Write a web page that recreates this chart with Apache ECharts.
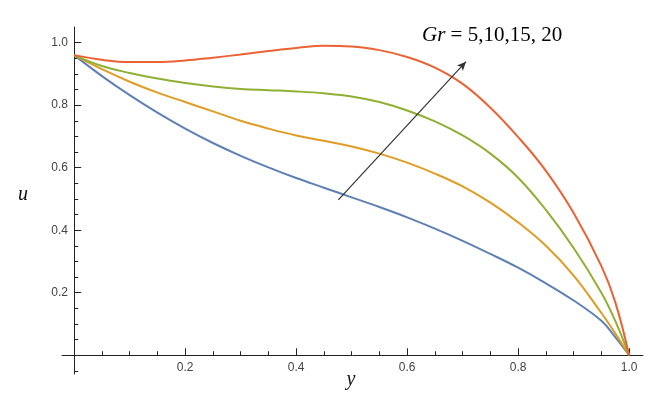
<!DOCTYPE html>
<html>
<head>
<meta charset="utf-8">
<script src="https://cdn.jsdelivr.net/npm/echarts@6/dist/echarts.min.js"></script>
<style>html,body{margin:0;padding:0;background:#fff;}#c{width:655px;height:400px;}</style>
</head>
<body>
<div id="c"></div>
<script>
const yPos = [0, 0.05, 0.1, 0.15, 0.2, 0.25, 0.3, 0.35, 0.4, 0.45, 0.5, 0.55, 0.6, 0.65, 0.7, 0.75, 0.8, 0.85, 0.9, 0.95, 0.975, 1.0];
const grLabels = ['Gr = 5', 'Gr = 10', 'Gr = 15', 'Gr = 20'];
const uGr5  = [0.96, 0.893, 0.832, 0.776, 0.725, 0.679, 0.638, 0.601, 0.567, 0.536, 0.505, 0.474, 0.441, 0.405, 0.366, 0.324, 0.28, 0.23, 0.175, 0.11, 0.058, 0];
const uGr10 = [0.96, 0.915, 0.875, 0.84, 0.81, 0.78, 0.75, 0.725, 0.703, 0.686, 0.668, 0.645, 0.616, 0.581, 0.54, 0.488, 0.425, 0.35, 0.255, 0.135, 0.07, 0];
const uGr15 = [0.96, 0.925, 0.903, 0.885, 0.871, 0.86, 0.852, 0.848, 0.844, 0.838, 0.828, 0.81, 0.783, 0.748, 0.703, 0.645, 0.568, 0.465, 0.343, 0.2, 0.11, 0];
const uGr20 = [0.96, 0.945, 0.938, 0.938, 0.943, 0.952, 0.962, 0.973, 0.983, 0.99, 0.988, 0.976, 0.954, 0.92, 0.868, 0.792, 0.698, 0.59, 0.455, 0.285, 0.17, 0];
const majorTicks = [0.2, 0.4, 0.6, 0.8, 1.0];
const xMinorTicks = [0.05, 0.1, 0.15, 0.25, 0.3, 0.35, 0.45, 0.5, 0.55, 0.65, 0.7, 0.75, 0.85, 0.9, 0.95];
const yMinorTicks = [-0.05, 0.05, 0.1, 0.15, 0.25, 0.3, 0.35, 0.45, 0.5, 0.55, 0.65, 0.7, 0.75, 0.85, 0.9, 0.95];
const arrowFrom = [0.476, 0.497];
const arrowTo = [0.706, 0.939];
const xAxisTitle = 'y';
const yAxisTitle = 'u';

const colors = ['#5E81B5', '#E19C24', '#8FB032', '#EB6235'];
const seriesVals = [uGr5, uGr10, uGr15, uGr20];

const chart = echarts.init(document.getElementById('c'));
const xRange = {min: -0.022, max: 1.025};
const yRange = {min: -0.06, max: 1.05};
const labelStyle = {color: '#444', fontFamily: 'Liberation Sans, Arial, sans-serif', fontSize: 12};
const axisLineStyle = {color: '#222', width: 1};
const titleFont = 'italic 20px "Liberation Serif", "Times New Roman", serif';

const series = seriesVals.map((vals, i) => ({
  name: grLabels[i],
  type: 'line',
  xAxisIndex: 0,
  yAxisIndex: 0,
  data: yPos.map((x, j) => [x, vals[j]]),
  smooth: 0.4,
  symbol: 'none',
  lineStyle: {color: colors[i], width: 2},
  z: 3 + i
}));
series[0].markLine = {
  silent: true,
  symbol: ['none', 'arrow'],
  symbolSize: [6, 9],
  label: {show: false},
  lineStyle: {color: '#333', width: 1.2, type: 'solid'},
  data: [[{coord: arrowFrom}, {coord: arrowTo}]],
  z: 10
};

chart.setOption({
  animation: false,
  backgroundColor: '#fff',
  grid: {left: 62, right: 12, top: 27, bottom: 26, containLabel: false, outerBoundsMode: 'none'},
  xAxis: [
    {
      type: 'value', ...xRange, position: 'bottom',
      axisLine: {show: true, onZero: true, lineStyle: axisLineStyle},
      axisTick: {show: true, inside: true, length: 7, customValues: majorTicks, lineStyle: axisLineStyle},
      axisLabel: {show: true, customValues: majorTicks, formatter: v => v.toFixed(1), margin: -12, ...labelStyle},
      splitLine: {show: false}
    },
    {
      type: 'value', ...xRange, position: 'bottom',
      axisLine: {show: false, onZero: true},
      axisTick: {show: true, inside: true, length: 4, customValues: xMinorTicks, lineStyle: axisLineStyle},
      axisLabel: {show: false},
      splitLine: {show: false}
    }
  ],
  yAxis: [
    {
      type: 'value', ...yRange, position: 'left',
      axisLine: {show: true, onZero: true, lineStyle: axisLineStyle},
      axisTick: {show: true, inside: true, length: 7, customValues: majorTicks, lineStyle: axisLineStyle},
      axisLabel: {show: true, customValues: majorTicks, formatter: v => v.toFixed(1), margin: -6, ...labelStyle},
      splitLine: {show: false}
    },
    {
      type: 'value', ...yRange, position: 'left',
      axisLine: {show: false, onZero: true},
      axisTick: {show: true, inside: true, length: 4, customValues: yMinorTicks, lineStyle: axisLineStyle},
      axisLabel: {show: false},
      splitLine: {show: false}
    }
  ],
  graphic: [
    {
      type: 'text', x: 422, y: 35,
      style: {
        text: '{i|Gr} = 5,10,15, 20',
        fill: '#000',
        font: '21px "Liberation Serif", "Times New Roman", serif',
        verticalAlign: 'middle',
        rich: {i: {fontStyle: 'italic', fontFamily: 'Liberation Serif', fontSize: 21, fill: '#000'}}
      }
    },
    {
      type: 'text', x: 351, y: 380,
      style: {text: xAxisTitle, font: titleFont, fill: '#111', align: 'center', verticalAlign: 'middle'}
    },
    {
      type: 'text', x: 23, y: 195,
      style: {text: yAxisTitle, font: titleFont, fill: '#111', align: 'center', verticalAlign: 'middle'}
    }
  ],
  series: series
});
</script>
</body>
</html>
